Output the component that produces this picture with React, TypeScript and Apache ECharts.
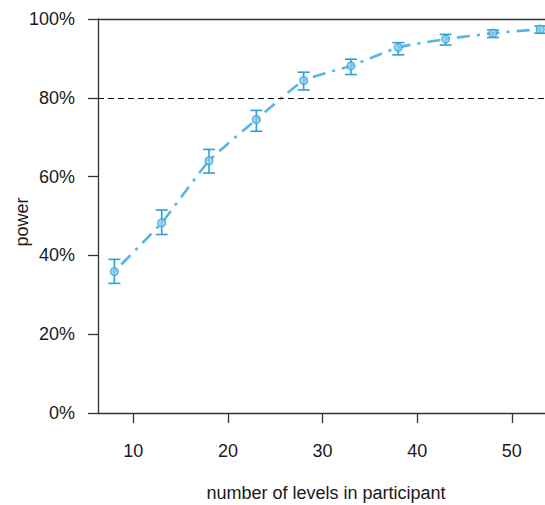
import React, { useEffect, useRef } from "react";
import * as echarts from "echarts";

const levels = [8, 13, 18, 23, 28, 33, 38, 43, 48, 53];
const power = [0.359, 0.483, 0.640, 0.745, 0.844, 0.881, 0.928, 0.949, 0.964, 0.974];
const lower = [0.329, 0.453, 0.609, 0.715, 0.820, 0.859, 0.909, 0.934, 0.953, 0.964];
const upper = [0.390, 0.515, 0.669, 0.768, 0.865, 0.898, 0.940, 0.961, 0.972, 0.982];
const xTicks = [10, 20, 30, 40, 50];
const threshold = 0.8;

const FONT = "Liberation Sans, Arial, sans-serif";

export default function App() {
  const ref = useRef<HTMLDivElement>(null);
  useEffect(() => {
    if (!ref.current) return;
    const chart = echarts.init(ref.current, null, { renderer: "svg" });
    const points = levels.map((x, i) => [x, power[i]]);
    const bars = levels.map((x, i) => [x, lower[i], upper[i]]);
    chart.setOption({
      animation: false,
      grid: { left: 98, top: 19, right: 0, bottom: 92, containLabel: false },
      xAxis: {
        type: "value",
        min: 6.27,
        max: 53.5,
        axisLine: { show: true, onZero: false, lineStyle: { color: "#333", width: 1.3 } },
        axisTick: { show: true, length: 10, customValues: xTicks, lineStyle: { color: "#333", width: 1.3 } },
        axisLabel: {
          customValues: xTicks,
          fontSize: 18,
          fontFamily: FONT,
          color: "#1a1a1a",
          margin: 29,
        },
        splitLine: { show: false },
      },
      yAxis: {
        type: "value",
        min: 0,
        max: 1,
        interval: 0.2,
        axisLine: { show: true, lineStyle: { color: "#333", width: 1.3 } },
        axisTick: { show: true, length: 10, lineStyle: { color: "#333", width: 1.3 } },
        axisLabel: {
          fontSize: 18,
          fontFamily: FONT,
          color: "#1a1a1a",
          margin: 23,
          formatter: (v: number) => `${Math.round(v * 100)}%`,
        },
        splitLine: { show: false },
      },
      graphic: [
        {
          type: "text",
          x: 326,
          y: 493,
          style: {
            text: "number of levels in participant",
            fontSize: 18,
            fontFamily: FONT,
            fill: "#1a1a1a",
            textAlign: "center",
            textVerticalAlign: "middle",
          },
        },
        {
          type: "text",
          x: 22,
          y: 222,
          rotation: Math.PI / 2,
          style: {
            text: "power",
            fontSize: 18,
            fontFamily: FONT,
            fill: "#1a1a1a",
            textAlign: "center",
            textVerticalAlign: "middle",
          },
        },
      ],
      series: [
        {
          type: "line",
          data: points,
          smooth: 0.15,
          symbol: "none",
          lineStyle: { color: "#55b6e6", width: 2.6, type: [3, 7, 13, 7] },
          z: 2,
          markLine: {
            silent: true,
            symbol: "none",
            label: { show: false },
            data: [
              { yAxis: threshold, lineStyle: { color: "#111", width: 1.2, type: [6, 4] } },
              { yAxis: 1, lineStyle: { color: "#333", width: 1.3, type: "solid" } },
            ],
          },
        },
        {
          type: "custom",
          data: bars,
          z: 3,
          renderItem: (params: any, api: any) => {
            const x = api.value(0);
            const lo = api.coord([x, api.value(1)]);
            const hi = api.coord([x, api.value(2)]);
            const w = 6;
            const style = { stroke: "#2e9fd6", lineWidth: 1.6 };
            return {
              type: "group",
              children: [
                { type: "line", shape: { x1: lo[0], y1: lo[1], x2: hi[0], y2: hi[1] }, style },
                { type: "line", shape: { x1: lo[0] - w, y1: lo[1], x2: lo[0] + w, y2: lo[1] }, style },
                { type: "line", shape: { x1: hi[0] - w, y1: hi[1], x2: hi[0] + w, y2: hi[1] }, style },
              ],
            };
          },
        },
        {
          type: "scatter",
          data: points,
          symbol: "circle",
          symbolSize: 8,
          itemStyle: { color: "#8ccbe8", borderColor: "#2e9fd6", borderWidth: 1.2 },
          z: 4,
        },
      ],
    });
    return () => chart.dispose();
  }, []);
  return (
    <div
      ref={ref}
      style={{ position: "absolute", left: 0, top: 0, width: 545, height: 505, background: "#fff" }}
    />
  );
}
